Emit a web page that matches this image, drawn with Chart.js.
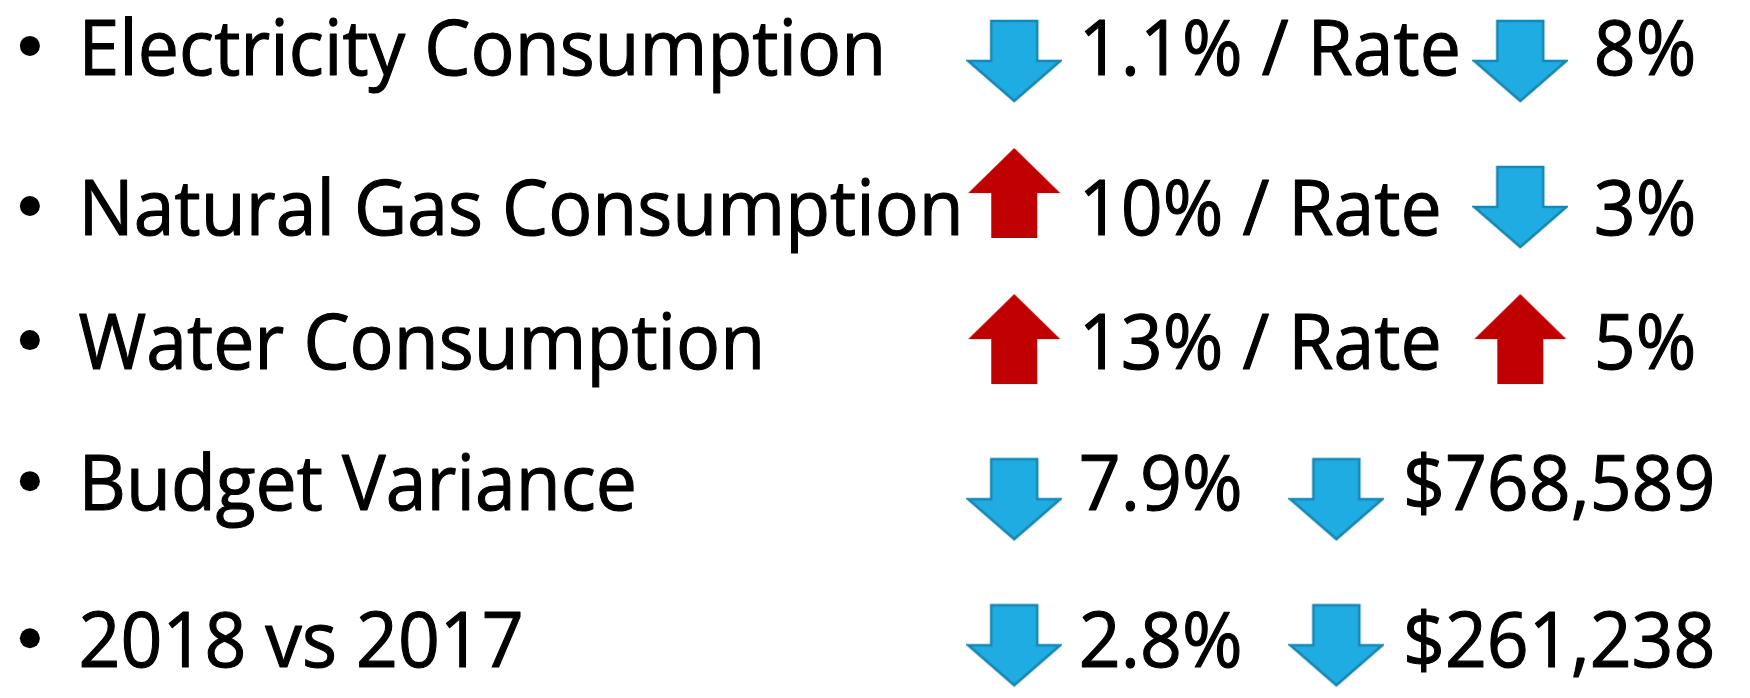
<!DOCTYPE html>
<html>
<head>
<meta charset="utf-8">
<script src="https://cdn.jsdelivr.net/npm/chart.js@4.4.0/dist/chart.umd.min.js"></script>
<style>
  html, body { margin: 0; padding: 0; background: #fff; }
  #wrap { width: 1750px; height: 698px; }
</style>
</head>
<body>
<div id="wrap"><canvas id="grafico" width="1750" height="698"></canvas></div>
<script>
// Dados do slide
const categorias = ['Electricity Consumption', 'Natural Gas Consumption', 'Water Consumption', 'Budget Variance', '2018 vs 2017'];
const variacao = [-1.1, 10, 13, -7.9, -2.8];            // consumo / orçamento (%)
const variacao2 = [-8, -3, 5, -768589, -261238];        // tarifa (%) ou valor ($)
const unidade2 = ['%', '%', '%', '$', '$'];
const sufixo = [' / Rate', ' / Rate', ' / Rate', '', ''];

// Layout (eixo x em px do slide)
const FONTE = '"Open Sans", sans-serif';
const TAM = 76;
const APERTO = 0.965;
const AJUSTE_Y = [-4, 10, -2, -7, 4];   // pequeno desvio de cada linha de texto
const COL = { bullet: 25, label: 74, seta1: 1015, texto1: 1080 };
const COL_RATE = { seta2: 1524, texto2: 1598 };
const COL_BUDGET = { seta2: 1339, texto2: 1406 };

// Setas desenhadas num canvas e usadas como pointStyle
function criarSeta(up) {
    const w = 92, h = up ? 90 : 80, lift = up ? 32 : 18;
    const c = document.createElement('canvas');
    c.width = w + 4;
    c.height = h + 2 * lift + 4;
    const g = c.getContext('2d');
    g.translate(2, 2);
    const haste = w / 2;
    const cabeca = h / 2;
    const sx = (w - haste) / 2;
    g.beginPath();
    if (up) {
        g.moveTo(w / 2, 0); g.lineTo(w, cabeca); g.lineTo(sx + haste, cabeca);
        g.lineTo(sx + haste, h); g.lineTo(sx, h); g.lineTo(sx, cabeca); g.lineTo(0, cabeca);
    } else {
        g.moveTo(sx, 0); g.lineTo(sx + haste, 0); g.lineTo(sx + haste, cabeca);
        g.lineTo(w, cabeca); g.lineTo(w / 2, h); g.lineTo(0, cabeca); g.lineTo(sx, cabeca);
    }
    g.closePath();
    g.fillStyle = up ? '#C00000' : '#1FACE3';
    g.fill();
    if (!up) {
        g.strokeStyle = '#1A86B2';
        g.lineWidth = 2.5;
        g.stroke();
    }
    return c;
}
const setaUp = criarSeta(true);
const setaDown = criarSeta(false);
const seta = v => (v < 0 ? setaDown : setaUp);

const fmtPct = v => Math.abs(v) + '%';
const fmtUsd = v => '$' + Math.abs(v).toLocaleString('en-US');
const colunas2 = i => (unidade2[i] === '%' ? COL_RATE : COL_BUDGET);

// texto um pouco mais encorpado (Calibri é mais pesada que Open Sans regular)
function escrever(ctx, txt, px, py) {
    ctx.save();
    ctx.translate(px, py);
    ctx.scale(APERTO, 1);
    ctx.fillText(txt, 0, 0);
    ctx.strokeText(txt, 0, 0);
    ctx.restore();
}

const textos = {
    id: 'textos',
    afterDatasetsDraw(chart) {
        const { ctx, scales: { x, y } } = chart;
        ctx.save();
        ctx.fillStyle = '#000';
        ctx.strokeStyle = '#000';
        ctx.lineWidth = 1.1;
        ctx.lineJoin = 'round';
        ctx.font = `${TAM}px ${FONTE}`;
        ctx.textBaseline = 'alphabetic';
        categorias.forEach((cat, i) => {
            const base = y.getPixelForValue(i) + AJUSTE_Y[i];
            ctx.beginPath();
            ctx.arc(x.getPixelForValue(COL.bullet), base - 29, 10, 0, Math.PI * 2);
            ctx.fill();
            escrever(ctx, cat, x.getPixelForValue(COL.label), base);
            escrever(ctx, fmtPct(variacao[i]) + sufixo[i], x.getPixelForValue(COL.texto1), base);
            const t2 = unidade2[i] === '%' ? fmtPct(variacao2[i]) : fmtUsd(variacao2[i]);
            escrever(ctx, t2, x.getPixelForValue(colunas2(i).texto2), base);
        });
        ctx.restore();
    }
};

new Chart(document.getElementById('grafico'), {
    type: 'scatter',
    data: {
        datasets: [
            {
                label: 'Variação',
                data: categorias.map((_, i) => ({ x: COL.seta1, y: i })),
                pointStyle: variacao.map(seta),
                clip: false
            },
            {
                label: 'Tarifa / Valor',
                data: categorias.map((_, i) => ({ x: colunas2(i).seta2, y: i })),
                pointStyle: variacao2.map(seta),
                clip: false
            }
        ]
    },
    options: {
        responsive: false,
        animation: false,
        events: [],
        layout: { padding: 0 },
        scales: {
            x: { type: 'linear', min: 0, max: 1750, display: false },
            y: { type: 'linear', min: -0.506, max: 4.204, reverse: true, display: false }
        },
        plugins: {
            legend: { display: false },
            tooltip: { enabled: false }
        }
    },
    plugins: [textos]
});
</script>
</body>
</html>
